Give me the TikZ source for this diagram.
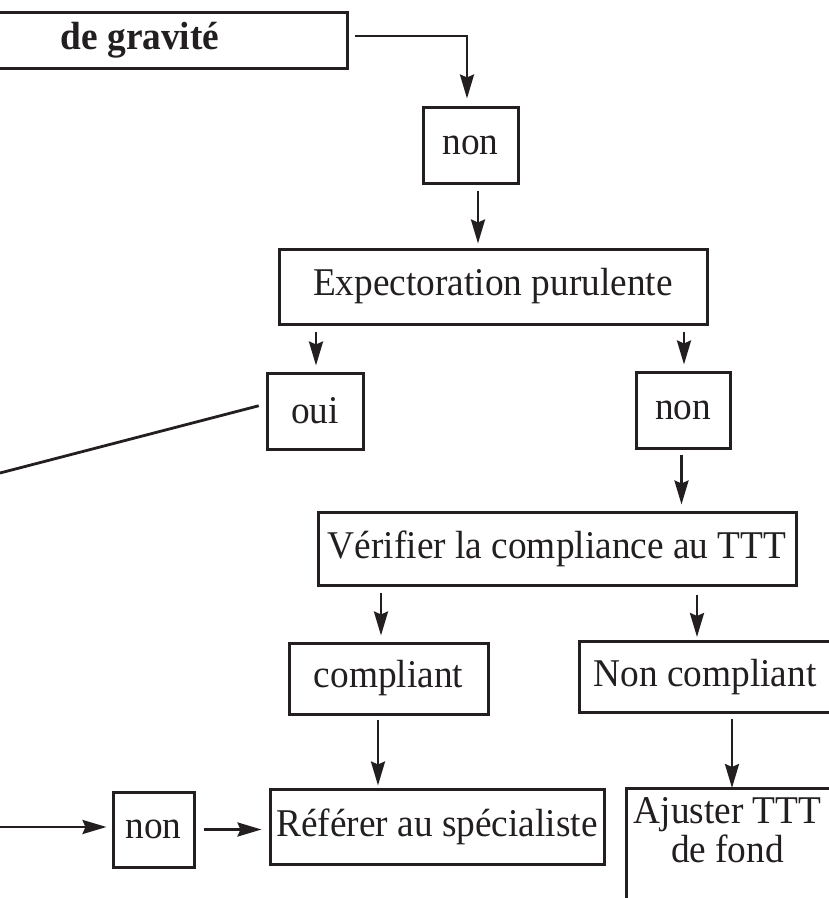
\documentclass[tikz,border=0pt]{standalone}
\usepackage{fontspec}
\setmainfont{Liberation Serif}[FakeStretch=0.95]
\usetikzlibrary{arrows.meta}
\definecolor{ink}{RGB}{35,31,32}
\newcommand\diagfont{\fontsize{39.3}{39.5}\selectfont}
\begin{document}
\begin{tikzpicture}[x=1pt,y=-1pt,
  box/.style={draw=ink, line width=3pt, inner sep=0pt, text=ink, font=\diagfont},
  frame/.style={draw=ink, line width=3pt},
  arr/.style={draw=ink, line width=2.8pt, -{Stealth[length=24pt,width=14pt,inset=3pt]}},
  link/.style={draw=ink, line width=2.8pt}]
\useasboundingbox (0,0) rectangle (829,898);
\clip (0,0) rectangle (829,898);

% boxes
\node[box, minimum width=414pt, minimum height=56pt, font=\diagfont\bfseries] (grav) at (140,40) {de gravité};
\node[box, minimum width=95pt, minimum height=76pt] (non1) at (470.5,145) {non};
\node[box, minimum width=428pt, minimum height=75pt] (exp) at (493,286.5) {Expectoration purulente};
\node[box, minimum width=96pt, minimum height=76pt] (oui) at (315,411) {oui};
\node[box, minimum width=94pt, minimum height=76pt] (non2) at (683,410) {non};
\node[box, minimum width=478pt, minimum height=73pt] (ver) at (557,548.5) {Vérifier la compliance au TTT};
\node[box, minimum width=199pt, minimum height=71pt] (comp) at (388.5,678.5) {compliant};
\node[box, minimum width=252pt, minimum height=71pt] (ncomp) at (705,677) {Non compliant};
\node[box, minimum width=334pt, minimum height=75pt] (ref) at (437,826.5) {Référer au spécialiste};
\node[box, minimum width=81pt, minimum height=75pt] (non3) at (153.5,829.5) {non};
\node[text=ink, font=\diagfont, align=center, inner xsep=0pt, inner ysep=9pt, anchor=north] (ajust) at (727.5,788) {Ajuster TTT\\de fond};
\draw[frame] ([xshift=-101.5pt,yshift=-200pt]ajust.north) -- ([xshift=-101.5pt]ajust.north) -- ([xshift=110pt]ajust.north);

% free ends on the left
\coordinate (ouiL) at (0,473);
\coordinate (inL) at (0,827);

% connectors
\draw[arr, shorten >=7pt] ([xshift=6pt,yshift=4pt]grav.east) -| ([xshift=-3.5pt]non1.north);
\draw[arr, shorten <=6pt, shorten >=4pt] ([xshift=7.5pt]non1.south) -- ([xshift=7.5pt]non1.south |- exp.north);
\draw[arr, shorten <=6pt, shorten >=6pt] ([xshift=1pt]oui.north |- exp.south) -- ([xshift=1pt]oui.north);
\draw[arr, shorten <=6pt, shorten >=6pt] ([xshift=1pt]non2.north |- exp.south) -- ([xshift=1pt]non2.north);
\draw[arr, shorten <=5pt, shorten >=6pt] ([xshift=-1.5pt]non2.south) -- ([xshift=-1.5pt]non2.south |- ver.north);
\draw[arr, shorten <=6pt, shorten >=6pt] ([xshift=-7.5pt]comp.north |- ver.south) -- ([xshift=-7.5pt]comp.north);
\draw[arr, shorten <=8pt, shorten >=3pt] ([xshift=-8pt]ncomp.north |- ver.south) -- ([xshift=-8pt]ncomp.north);
\draw[arr, shorten <=4pt, shorten >=2pt] ([xshift=-10.5pt]comp.south) -- ([xshift=-10.5pt]comp.south |- ref.north);
\draw[arr, shorten <=5pt] ([xshift=27pt]ncomp.south) -- ([xshift=27pt]ncomp.south |- ajust.north);
\draw[link, shorten <=7pt] ([yshift=7pt]oui.west) -- (ouiL);
\draw[arr, shorten >=5pt] (inL) -- (inL -| non3.west);
\draw[arr, shorten <=8pt, shorten >=7pt] (non3.east) -- (non3.east -| ref.west);
\end{tikzpicture}
\end{document}
